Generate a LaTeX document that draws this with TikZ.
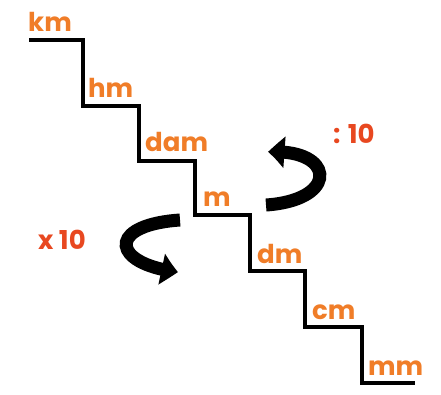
\documentclass[tikz,border=0pt]{standalone}
\usepackage{fontspec}
\setmainfont{Poppins}
\usetikzlibrary{arrows.meta,
    bending,
    positioning}
\definecolor{unitorange}{RGB}{240,125,40}
\definecolor{factorred}{RGB}{232,72,32}

\begin{document}
\begin{tikzpicture}[x=1pt, y=-1pt,
                  unit/.style = {text=unitorange, anchor=base west, inner sep=0pt,
                                 font=\fontsize{26}{26}\selectfont\bfseries},
                  factor/.style = {text=factorred, anchor=base west, inner sep=0pt,
                                   font=\fontsize{26}{26}\selectfont\bfseries},
                  stair/.style = {line width=3.5pt, line join=miter},
                  turn/.style = {line width=13pt, -{Triangle[bend, length=17pt, width=30pt]}}
                  ]
\useasboundingbox (0,0) rectangle (441,394);
% staircase
\draw[stair] (29,40) -| (83,106) -| (139,161) -| (195,215)
             -| (250,271) -| (305,327) -| (362,383) -- (415,383);
% units on the steps
\foreach \u/\x/\y [count=\j] in {km/28/31, hm/88/97, dam/145/151, m/203/206,
                                 dm/257/263, cm/312/319, mm/368/375}
    \node[unit] (u\j) at (\x,\y) {\u};
% factors
\node[factor] (div) at (333,143) {: 10};
\node[factor] (mul) at (38,249) {x 10};
% turning arrows
\coordinate (up0) at (266,205);
\coordinate (up1) at (268,152);
\coordinate (dn0) at (180,220);
\coordinate (dn1) at (178,272);
\draw[turn] (up0) .. controls (340,200) and (335,148) .. (up1);
\draw[turn] (dn0) .. controls (106,225) and (111,264) .. (dn1);
\end{tikzpicture}
\end{document}
